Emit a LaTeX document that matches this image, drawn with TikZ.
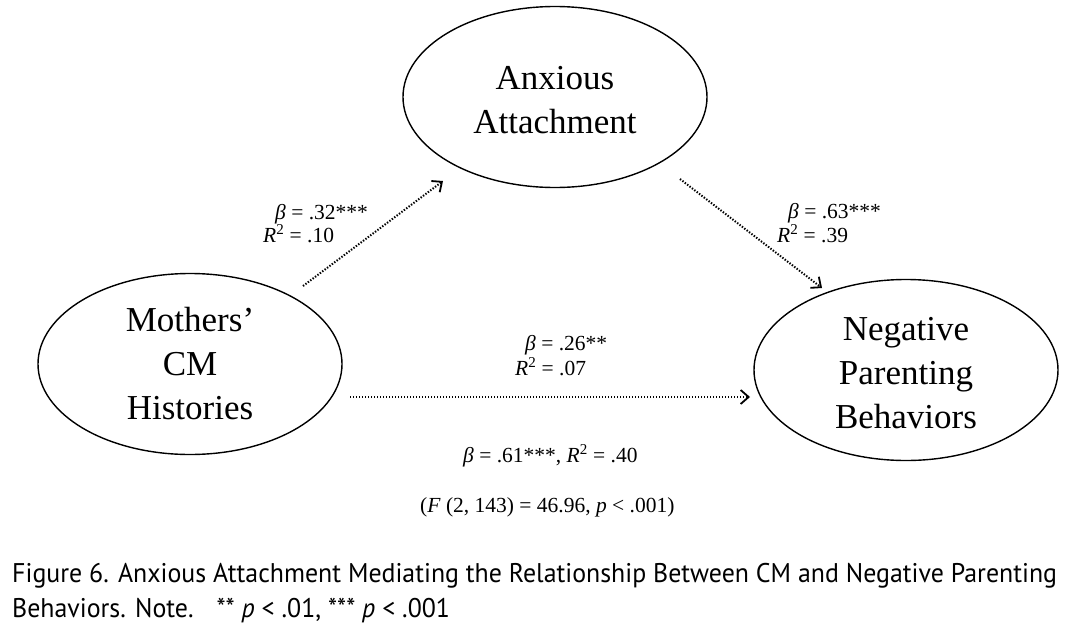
\documentclass[tikz,border=0pt]{standalone}
\usepackage{fontspec}
\setmainfont{Liberation Serif}
\newfontfamily\capfont[FakeStretch=0.958]{PT Sans}
\usetikzlibrary{shapes.geometric,arrows.meta}
\tikzset{
  latent/.style={draw, line width=1.4pt, ellipse, minimum width=304pt, minimum height=181pt, inner sep=0pt, align=center, font=\fontsize{35}{44}\selectfont},
  pathline/.style={line width=2pt, dash pattern=on 1.4pt off 1.6pt, -{Straight Barb[length=8pt,width=14pt,line width=1.8pt]}},
  lab/.style={anchor=base west, inner sep=0pt, font=\fontsize{21.5}{24}\selectfont},
  captext/.style={anchor=base west, inner sep=0pt, font=\capfont\fontsize{27}{30}\selectfont}
}
\begin{document}
\begin{tikzpicture}[x=1pt,y=-1pt]
\useasboundingbox (0,0) rectangle (1068,632);
\node[latent] (anx) at (555,97) {\rule{0pt}{30pt}Anxious\\Attachment};
\node[latent] (moth) at (190,364) {Mothers'\\CM\\Histories};
\node[latent] (neg) at (906,370) {\rule{0pt}{30pt}Negative\\Parenting\\Behaviors};
\coordinate (a1s) at (303,286);
\coordinate (a1e) at (443,181);
\coordinate (a2s) at (680,179);
\coordinate (a2e) at (822,288);
\coordinate (a3s) at (350,397);
\coordinate (a3e) at (750,397);
\draw[pathline] (a1s) -- (a1e);
\draw[pathline] (a2s) -- (a2e);
\draw[pathline] (a3s) -- (a3e);
\node[lab] (l1a) at (275,219) {\textit{β} = .32***};
\node[lab] (l1b) at (263,242) {\textit{R}\textsuperscript{2} = .10};
\node[lab] (l2a) at (788,218) {\textit{β} = .63***};
\node[lab] (l2b) at (777,242) {\textit{R}\textsuperscript{2} = .39};
\node[lab] (l3a) at (525,350) {\textit{β} = .26**};
\node[lab] (l3b) at (515,375) {\textit{R}\textsuperscript{2} = .07};
\node[lab] (l4) at (463,462) {\textit{β} = .61***, \textit{R}\textsuperscript{2} = .40};
\node[lab] (l5) at (420,512) {(\textit{F} (2, 143) = 46.96, \textit{p} < .001)};
\node[captext] (c1) at (12,582) {Figure 6. Anxious Attachment Mediating the Relationship Between CM and Negative Parenting};
\node[captext] (c2) at (12,617) {Behaviors. Note. \ \ ** \textit{p} < .01, *** \textit{p} < .001};
\end{tikzpicture}
\end{document}
